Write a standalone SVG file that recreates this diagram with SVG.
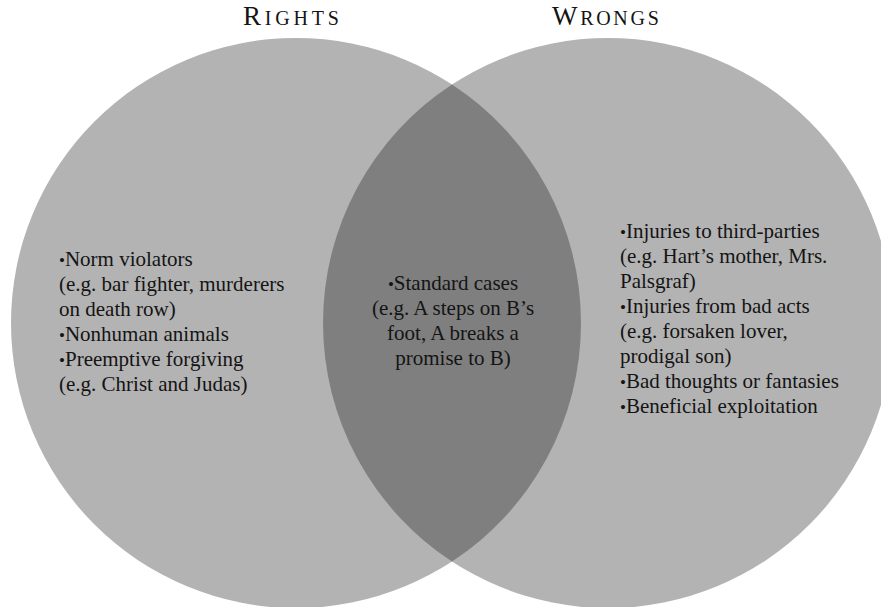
<svg xmlns="http://www.w3.org/2000/svg" width="881" height="607" viewBox="0 0 881 607">
<style>
.c{fill:#b3b3b3}
.lens{fill:#7f7f7f}
.t{font-size:21px;fill:#141414}
.b{font-size:17px}
.cap{font-size:27px}
.sc{font-size:20px}
</style>
<rect width="881" height="607" fill="#ffffff"/>
<g id="rights">
<circle class="c" cx="296" cy="323" r="285"/>
</g>
<g id="wrongs">
<circle class="c" cx="608" cy="323" r="285"/>
</g>
<g id="overlap">
<path class="lens" d="M452 84.5 A285 285 0 0 1 452 561.5 A285 285 0 0 1 452 84.5 Z"/>
</g>
<g id="titles" font-family="Liberation Serif, Times New Roman, serif" fill="#141414">
<text x="243" y="25" letter-spacing="3.8"><tspan class="cap">R</tspan><tspan class="sc">IGHTS</tspan></text>
<text x="552" y="25" letter-spacing="2.7"><tspan class="cap">W</tspan><tspan class="sc">RONGS</tspan></text>
</g>
<g id="rights-text" font-family="Liberation Serif, Times New Roman, serif">
<text class="t" x="59" y="266"><tspan class="b">•</tspan>Norm violators</text>
<text class="t" x="59" y="291">(e.g. bar fighter, murderers</text>
<text class="t" x="59" y="316">on death row)</text>
<text class="t" x="59" y="341"><tspan class="b">•</tspan>Nonhuman animals</text>
<text class="t" x="59" y="366"><tspan class="b">•</tspan>Preemptive forgiving</text>
<text class="t" x="59" y="391">(e.g. Christ and Judas)</text>
</g>
<g id="overlap-text" font-family="Liberation Serif, Times New Roman, serif">
<text class="t" x="453" y="290" text-anchor="middle"><tspan class="b">•</tspan>Standard cases</text>
<text class="t" x="453" y="315" text-anchor="middle">(e.g. A steps on B’s</text>
<text class="t" x="453" y="340" text-anchor="middle">foot, A breaks a</text>
<text class="t" x="453" y="365" text-anchor="middle">promise to B)</text>
</g>
<g id="wrongs-text" font-family="Liberation Serif, Times New Roman, serif">
<text class="t" x="620" y="238"><tspan class="b">•</tspan>Injuries to third-parties</text>
<text class="t" x="620" y="263">(e.g. Hart’s mother, Mrs.</text>
<text class="t" x="620" y="288">Palsgraf)</text>
<text class="t" x="620" y="313"><tspan class="b">•</tspan>Injuries from bad acts</text>
<text class="t" x="620" y="338">(e.g. forsaken lover,</text>
<text class="t" x="620" y="363">prodigal son)</text>
<text class="t" x="620" y="388"><tspan class="b">•</tspan>Bad thoughts or fantasies</text>
<text class="t" x="620" y="413"><tspan class="b">•</tspan>Beneficial exploitation</text>
</g>
<g id="connectors"></g>
</svg>
